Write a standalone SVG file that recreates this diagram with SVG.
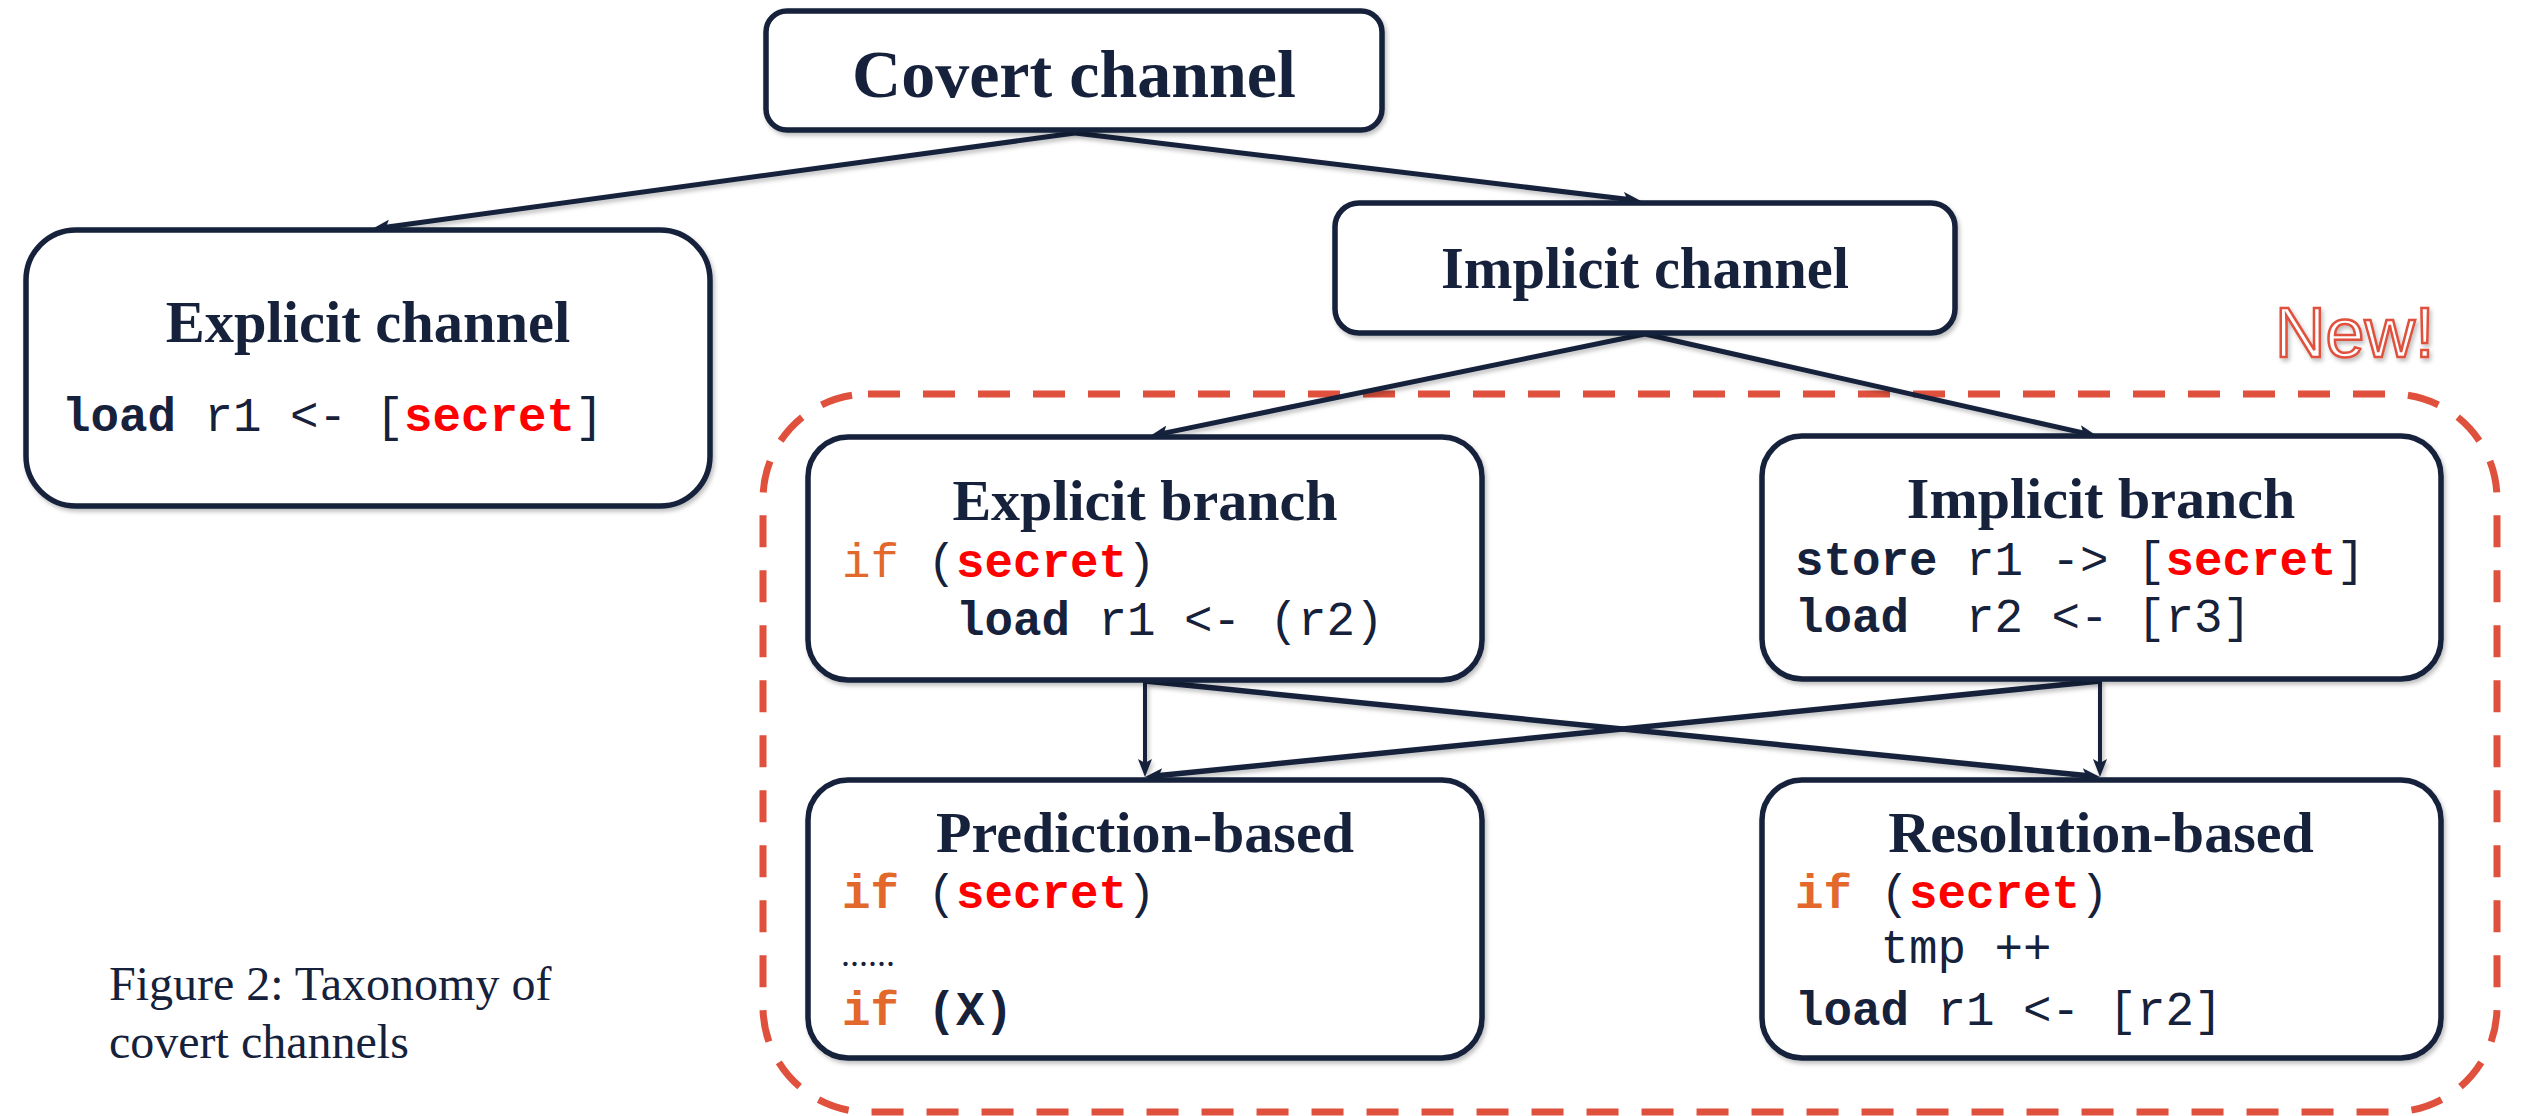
<svg xmlns="http://www.w3.org/2000/svg" width="2523" height="1116" viewBox="0 0 2523 1116">
<style>
.box{fill:#fff;stroke:#16213B;stroke-width:5.5}
.title{font-family:"Liberation Serif","Times New Roman",serif;font-weight:bold;fill:#16213B;text-anchor:middle}
.code{font-family:"Liberation Mono","Courier New",monospace;font-size:47.5px;fill:#16213B}
.b{font-weight:bold}
.sec{font-weight:bold;fill:#FF0000}
.kw{fill:#E2682C}
.cap{font-family:"Liberation Serif","Times New Roman",serif;font-size:48px;fill:#16213B}
.conn{stroke:#16213B;fill:none}
</style>
<defs>
<filter id="sh" x="-5%" y="-20%" width="110%" height="140%">
<feDropShadow dx="2" dy="3" stdDeviation="2" flood-color="#000" flood-opacity="0.25"/>
</filter>
<marker id="ah" viewBox="0 0 18 14" refX="6" refY="7" markerWidth="18" markerHeight="14" markerUnits="userSpaceOnUse" orient="auto">
<path d="M0,0 L18,7 L0,14 L4,7 z" fill="#16213B"/>
</marker>
</defs>
<rect width="2523" height="1116" fill="#fff"/>

<g id="new-region">
<rect x="763" y="394" width="1734" height="718" rx="105" ry="105" fill="none" stroke="#E0513D" stroke-width="7" stroke-dasharray="32 23"/>
<text x="2275" y="357" font-family="'Liberation Sans',Arial,sans-serif" font-size="70" fill="#fff" stroke="#E0513D" stroke-width="2.5" filter="url(#sh)">New!</text>
</g>

<g id="connectors" filter="url(#sh)">
<line class="conn" stroke-width="5" x1="1075" y1="133" x2="383.9" y2="227.4" marker-end="url(#ah)"/>
<line class="conn" stroke-width="5" x1="1075" y1="133" x2="1629.1" y2="199.6" marker-end="url(#ah)"/>
<line class="conn" stroke-width="5" x1="1645" y1="334" x2="1161.8" y2="433.6" marker-end="url(#ah)"/>
<line class="conn" stroke-width="5" x1="1645" y1="334" x2="2085.3" y2="433.4" marker-end="url(#ah)"/>
<line class="conn" stroke-width="4" x1="1145" y1="681" x2="1145" y2="765" marker-end="url(#ah)"/>
<line class="conn" stroke-width="5.5" x1="1145" y1="681" x2="2088.1" y2="775.8" marker-end="url(#ah)"/>
<line class="conn" stroke-width="5.5" x1="2100" y1="681" x2="1156.9" y2="775.8" marker-end="url(#ah)"/>
<line class="conn" stroke-width="4" x1="2100" y1="681" x2="2100" y2="765" marker-end="url(#ah)"/>
</g>

<g id="covert-channel">
<rect class="box" x="766" y="11" width="616" height="119" rx="21" filter="url(#sh)"/>
<text class="title" x="1074" y="97" font-size="68">Covert channel</text>
</g>

<g id="explicit-channel">
<rect class="box" x="26" y="230" width="684" height="276" rx="50" filter="url(#sh)"/>
<text class="title" x="368" y="342" font-size="58.5">Explicit channel</text>
<text class="code" x="62" y="431" xml:space="preserve"><tspan class="b">load</tspan> r1 &lt;- [<tspan class="sec">secret</tspan>]</text>
</g>

<g id="implicit-channel">
<rect class="box" x="1335" y="203" width="620" height="130" rx="24" filter="url(#sh)"/>
<text class="title" x="1645" y="288" font-size="58.5">Implicit channel</text>
</g>

<g id="explicit-branch">
<rect class="box" x="808" y="437" width="674" height="243" rx="40" filter="url(#sh)"/>
<text class="title" x="1145" y="520" font-size="58">Explicit branch</text>
<text class="code" x="842" y="577" xml:space="preserve"><tspan class="kw">if</tspan> (<tspan class="sec">secret</tspan>)</text>
<text class="code" x="842" y="635" xml:space="preserve">    <tspan class="b">load</tspan> r1 &lt;- (r2)</text>
</g>

<g id="implicit-branch">
<rect class="box" x="1762" y="436" width="679" height="243" rx="40" filter="url(#sh)"/>
<text class="title" x="2101" y="518" font-size="58">Implicit branch</text>
<text class="code" x="1795" y="575" xml:space="preserve"><tspan class="b">store</tspan> r1 -&gt; [<tspan class="sec">secret</tspan>]</text>
<text class="code" x="1795" y="632" xml:space="preserve"><tspan class="b">load</tspan>  r2 &lt;- [r3]</text>
</g>

<g id="prediction-based">
<rect class="box" x="808" y="780" width="674" height="278" rx="40" filter="url(#sh)"/>
<text class="title" x="1145" y="852" font-size="58">Prediction-based</text>
<text class="code" x="842" y="908" xml:space="preserve"><tspan class="kw b">if</tspan> (<tspan class="sec">secret</tspan>)</text>
<text x="841" y="966" font-family="'Liberation Serif','Times New Roman',serif" font-size="36" fill="#16213B">......</text>
<text class="code" x="842" y="1025" xml:space="preserve"><tspan class="kw b">if</tspan> <tspan class="b">(X)</tspan></text>
</g>

<g id="resolution-based">
<rect class="box" x="1762" y="780" width="679" height="278" rx="40" filter="url(#sh)"/>
<text class="title" x="2101" y="852" font-size="58">Resolution-based</text>
<text class="code" x="1795" y="908" xml:space="preserve"><tspan class="kw b">if</tspan> (<tspan class="sec">secret</tspan>)</text>
<text class="code" x="1795" y="963" xml:space="preserve">   tmp ++</text>
<text class="code" x="1795" y="1025" xml:space="preserve"><tspan class="b">load</tspan> r1 &lt;- [r2]</text>
</g>

<g id="caption">
<text class="cap" x="109" y="1000">Figure 2: Taxonomy of</text>
<text class="cap" x="109" y="1058">covert channels</text>
</g>
</svg>
